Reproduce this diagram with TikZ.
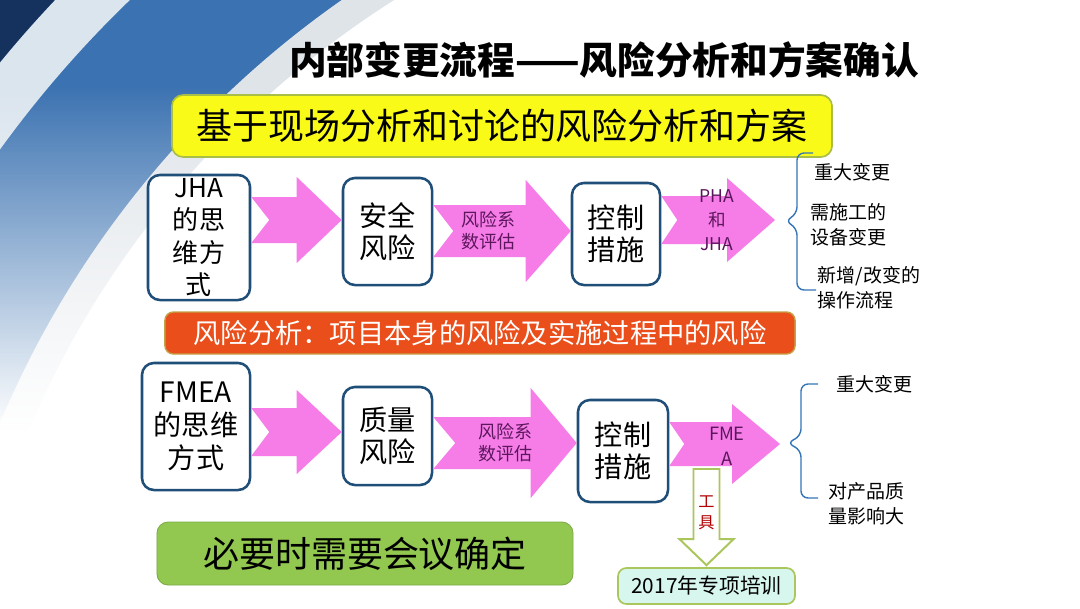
\documentclass[tikz,border=0pt]{standalone}
\usepackage{fontspec}
\setmainfont{Noto Sans CJK SC}
\usetikzlibrary{calc, positioning, fadings}
\definecolor{navy}{RGB}{21, 50, 95}
\definecolor{bandblue}{RGB}{59, 114, 177}
\definecolor{stripe}{RGB}{219, 229, 238}
\definecolor{ringgray}{RGB}{223, 228, 233}
\definecolor{boxblue}{RGB}{31, 78, 121}
\definecolor{arrowpink}{RGB}{246, 125, 232}
\definecolor{arrowtext}{RGB}{92, 22, 92}
\definecolor{barorange}{RGB}{234, 78, 26}
\definecolor{baredge}{RGB}{196, 160, 70}
\definecolor{hiyellow}{RGB}{250, 250, 24}
\definecolor{yellowedge}{RGB}{168, 190, 70}
\definecolor{meetgreen}{RGB}{146, 200, 80}
\definecolor{tooledge}{RGB}{170, 198, 92}
\definecolor{trainfill}{RGB}{215, 246, 238}
\definecolor{bracecol}{RGB}{52, 118, 184}
\tikzfading[name=fadewhite, top color=transparent!100, bottom color=transparent!0]

% notched block arrow: tail, tip, half body, half head, head length, notch
\newcommand{\notched}[6]{%
  \fill[arrowpink] ($(#1)+(0,-#3)$) -- ($(#2)+(-#5,-#3)$) -- ($(#2)+(-#5,-#4)$) -- (#2)
    -- ($(#2)+(-#5,#4)$) -- ($(#2)+(-#5,#3)$) -- ($(#1)+(0,#3)$) -- ($(#1)+(#6,0)$) -- cycle;}

\begin{document}
\begin{tikzpicture}[x=0.025cm, y=-0.025cm,
  flowbox/.style={draw=boxblue, line width=1.8pt, fill=white, rounded corners=8.5pt, align=center, inner sep=0pt},
  arrlabel/.style={text=arrowtext, align=center, font=\fontsize{12.8}{15.6}\selectfont},
  sidetext/.style={anchor=west, align=left, font=\fontsize{13.5}{17.5}\selectfont},
  bracket/.style={draw=bracecol, line width=1pt, rounded corners=5pt}
]
  \useasboundingbox (0,0) rectangle (1080,608);
  % background rings
  \fill[white] (0,0) rectangle (1080,608);
  \begin{scope}
    \clip (0,0) rectangle (1080,608);
    \fill[navy] (0,0) rectangle (600,400);
    \fill[stripe] (900,800) circle (29.08cm);
    \fill[bandblue] (900,800) circle (27.75cm);
    \fill[ringgray] (900,800) circle (24.38cm);
    \fill[white] (900,800) circle (23.65cm);
    \fill[white, path fading=fadewhite] (0,85) rectangle (470,430);
    \fill[white] (0,430) rectangle (470,608);
  \end{scope}

  % title and headline
  \node (title) at (604,60) {\fontsize{26.8}{30}\selectfont\bfseries 内部变更流程——风险分析和方案确认};
  \node[draw=yellowedge, line width=1.2pt, fill=hiyellow, rounded corners=8pt, minimum width=16.5cm, minimum height=1.55cm,
    font=\fontsize{25.6}{28}\selectfont] (head) at (502,126) {基于现场分析和讨论的风险分析和方案};

  % JHA row
  \node[flowbox, minimum width=2.55cm, minimum height=3.125cm, font=\fontsize{18.5}{22.8}\selectfont] (jha) at (199,237.5) {JHA\\的思\\维方\\式};
  \node[flowbox, minimum width=2.225cm, minimum height=2.675cm, font=\fontsize{20}{22.5}\selectfont] (safe) at (387.5,231.5) {安全\\风险};
  \node[flowbox, minimum width=2.2cm, minimum height=2.55cm, font=\fontsize{20}{22.5}\selectfont] (ctrla) at (616,234) {控制\\措施};
  \coordinate (a1s) at (jha.east |- 0,220);
  \coordinate (a1e) at (safe.west |- 0,220);
  \coordinate (a2s) at (safe.east |- 0,231);
  \coordinate (a2e) at (ctrla.west |- 0,231);
  \coordinate (a3s) at (ctrla.east |- 0,220);
  \coordinate (a3e) at (775,220);
  \notched{a1s}{a1e}{23}{43}{45}{18}
  \notched{a2s}{a2e}{26}{51}{45}{20}
  \notched{a3s}{a3e}{24}{42}{48}{16}
  \node[arrlabel] (t2) at ($(a2s)!0.4!(a2e)$) {风险系\\数评估};
  \node[arrlabel, font=\fontsize{12.5}{17}\selectfont] (t3) at ($(a3s)!0.49!(a3e)$) {PHA\\和\\JHA};

  % first bracket
  \coordinate (br1) at (797,221);
  \draw[bracket] (813,153) -- (797,153) -- ($(br1)+(0,-7)$) -- ($(br1)+(-12,0)$) -- ($(br1)+(0,7)$) -- (797,290) -- (816,290);
  \node[sidetext] (r1) at (810,172) {重大变更};
  \node[sidetext] (r2) at (806,225) {需施工的\\设备变更};
  \node[sidetext] (r3) at (813,288) {新增/改变的\\操作流程};

  % risk bar
  \node[draw=baredge, line width=1pt, fill=barorange, rounded corners=6pt, minimum width=15.75cm, minimum height=1.05cm,
    text=white, font=\fontsize{19.4}{22}\selectfont] (bar) at (480,333) {风险分析：项目本身的风险及实施过程中的风险};

  % FMEA row
  \node[flowbox, minimum width=2.7cm, minimum height=3.175cm, font=\fontsize{20}{23.5}\selectfont] (fmea) at (196,426.5) {FMEA\\的思维\\方式};
  \node[flowbox, minimum width=2.225cm, minimum height=2.45cm, font=\fontsize{20}{22.5}\selectfont] (qual) at (387.5,436) {质量\\风险};
  \node[flowbox, minimum width=2.25cm, minimum height=2.55cm, font=\fontsize{20}{22.5}\selectfont] (ctrlb) at (623,451) {控制\\措施};
  \coordinate (a4s) at (fmea.east |- 0,432);
  \coordinate (a4e) at (qual.west |- 0,432);
  \coordinate (a5s) at (qual.east |- 0,443);
  \coordinate (a5e) at (ctrlb.west |- 0,443);
  \coordinate (a6s) at (ctrlb.east |- 0,444);
  \coordinate (a6e) at (780,444);
  \notched{a4s}{a4e}{24}{42}{45}{18}
  \notched{a5s}{a5e}{26}{55}{46}{22}
  \notched{a6s}{a6e}{22}{40}{48}{15}
  \node[arrlabel] (t5) at ($(a5s)!0.5!(a5e)$) {风险系\\数评估};
  \node[arrlabel, font=\fontsize{13}{17.5}\selectfont] (t6) at ($(a6s)!0.52!(a6e)+(0,2)$) {FME\\A};

  % second bracket
  \coordinate (br2) at (801,443);
  \draw[bracket] (818,384) -- (801,384) -- ($(br2)+(0,-7)$) -- ($(br2)+(-14,0)$) -- ($(br2)+(0,7)$) -- (801,498) -- (818,498);
  \node[sidetext] (r4) at (832,384) {重大变更};
  \node[sidetext] (r5) at (824,504) {对产品质\\量影响大};

  % meeting
  \node[draw=meetgreen!85!black, line width=0.6pt, fill=meetgreen, rounded corners=8pt, minimum width=10.4cm, minimum height=1.575cm,
    font=\fontsize{25.6}{28}\selectfont] (meet) at (365,553.5) {必要时需要会议确定};

  % tool arrow and training
  \node[draw=tooledge, line width=1.2pt, fill=trainfill, rounded corners=6pt, minimum width=4.425cm, minimum height=0.9cm,
    font=\fontsize{14.8}{16}\selectfont] (train) at (706.5,586) {2017年专项培训};
  \coordinate (tool) at (train.north |- 0,469);
  \draw[draw=tooledge, line width=1.4pt, fill=white, line join=miter]
    ($(tool)+(-13,0)$) -- ($(train.north)+(-13,-28)$) -- ($(train.north)+(-27,-28)$) -- ($(train.north)+(0,-2)$)
    -- ($(train.north)+(27,-28)$) -- ($(train.north)+(13,-28)$) -- ($(tool)+(13,0)$) -- cycle;
  \node[text=red!70!black, align=center, font=\fontsize{11.5}{15}\selectfont] (toollbl) at ($(tool)!0.45!(train.north)$) {工\\具};
\end{tikzpicture}
\end{document}
